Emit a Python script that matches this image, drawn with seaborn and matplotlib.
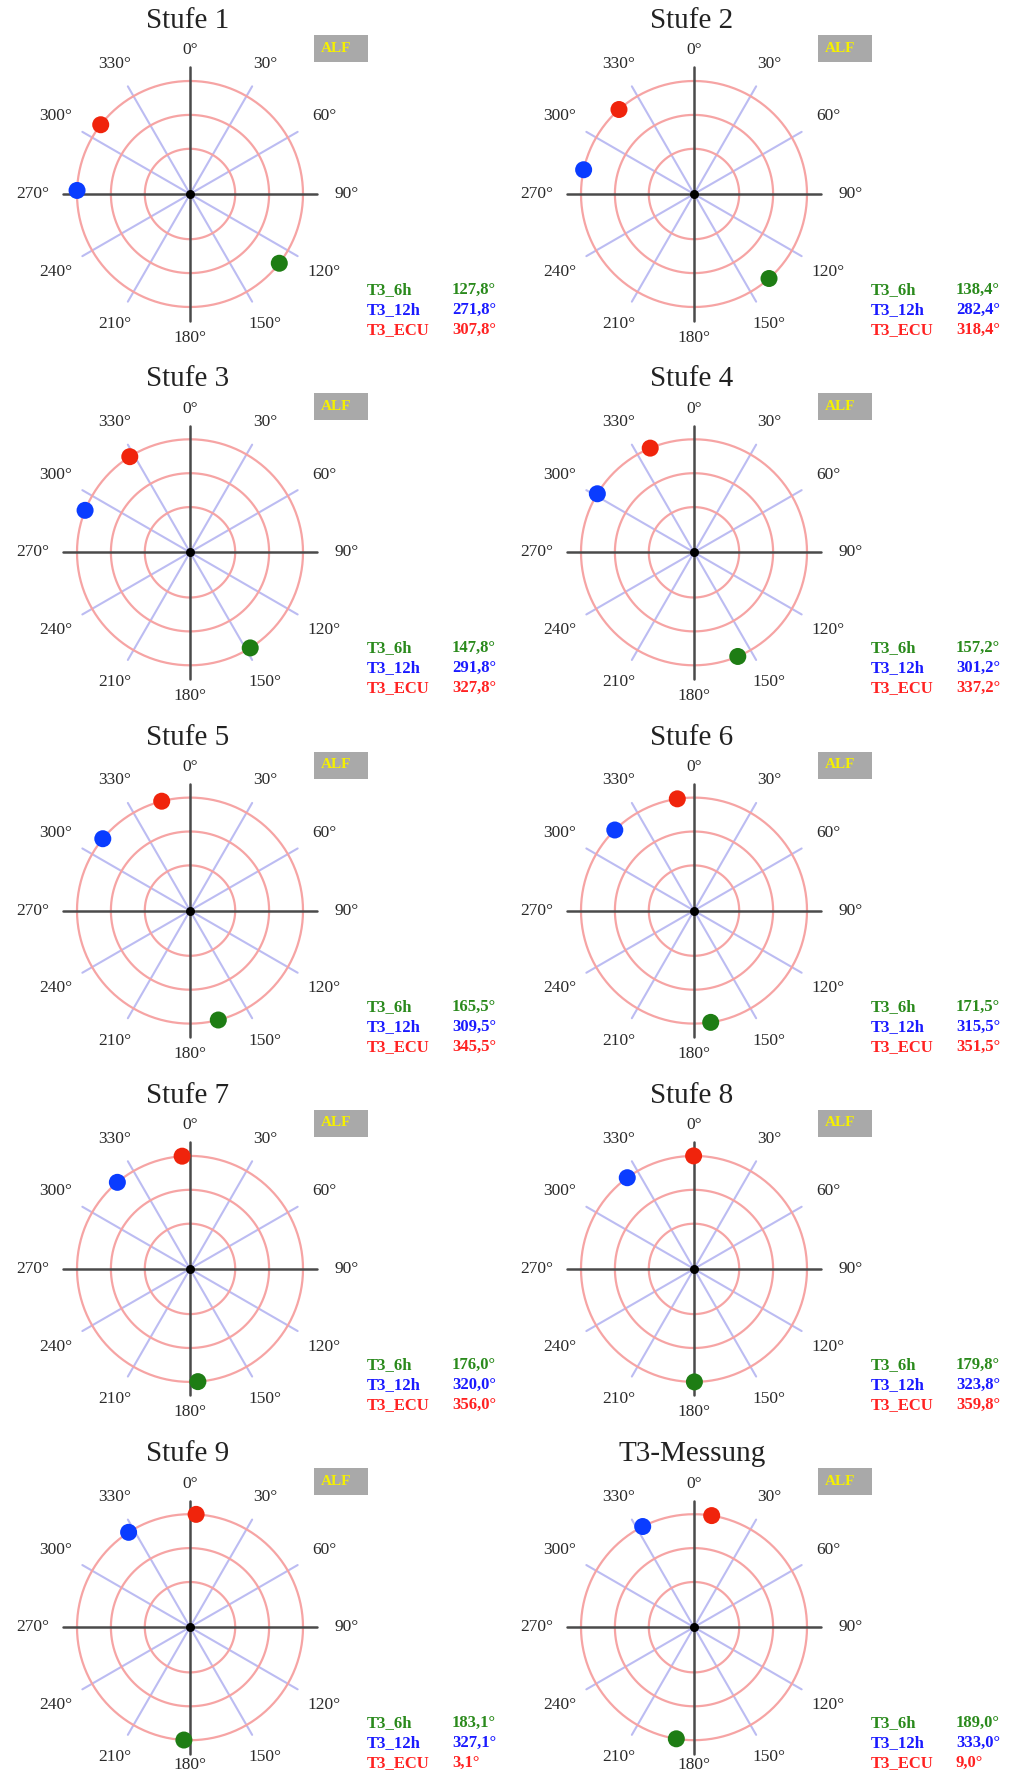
import numpy as np
import pandas as pd
import matplotlib.pyplot as plt
import seaborn as sns
from matplotlib.patches import Rectangle

# panel titles and the three angles (degrees) per panel
titles = ["Stufe 1", "Stufe 2", "Stufe 3", "Stufe 4", "Stufe 5",
          "Stufe 6", "Stufe 7", "Stufe 8", "Stufe 9", "T3-Messung"]
t3_6h = [127.8, 138.4, 147.8, 157.2, 165.5, 171.5, 176.0, 179.8, 183.1, 189.0]
t3_12h = [271.8, 282.4, 291.8, 301.2, 309.5, 315.5, 320.0, 323.8, 327.1, 333.0]
t3_ecu = [307.8, 318.4, 327.8, 337.2, 345.5, 351.5, 356.0, 359.8, 3.1, 9.0]
series_names = ["T3_6h", "T3_12h", "T3_ECU"]
dot_colors = ["#1e7d14", "#0a3cff", "#f0240c"]
text_colors = ["#2a8a1c", "#1a1aff", "#ff2222"]
angle_ticks = list(range(0, 360, 30))
ring_radii = [0.40, 0.70, 1.0]

sns.set_style("white")
plt.rcParams['font.family'] = ['Liberation Serif', 'DejaVu Serif']

W, H = 1011, 1775
fig = plt.figure(figsize=(W / 100, H / 100), dpi=100)


def fx(x):
    return x / W


def fy(y):
    return 1 - y / H


R_PIX = 113      # pixel radius of the outer ring
RMAX = 1.15
half = R_PIX * RMAX

for i, title in enumerate(titles):
    cx = 190 if i % 2 == 0 else 694
    cy = 194 + (i // 2) * 358.3
    last_row = i >= 8
    ax = fig.add_axes([fx(cx - half), fy(cy + half), 2 * half / W, 2 * half / H],
                      projection='polar')
    ax.set_theta_zero_location('N')
    ax.set_theta_direction(-1)
    ax.grid(False)
    ax.spines['polar'].set_visible(False)
    ax.patch.set_alpha(0)

    th = np.linspace(0, 2 * np.pi, 361)
    for a in angle_ticks:
        t = np.deg2rad(a)
        if a % 90 != 0:
            ax.plot([t, t], [0, 1.10], color='#bcbcf2', lw=1.5, zorder=1)
    for r in ring_radii:
        ax.plot(th, np.full_like(th, r), color='#f6a4a4', lw=1.6, zorder=2)
    for a in angle_ticks:
        t = np.deg2rad(a)
        if a % 90 == 0:
            ax.plot([t, t], [0, 1.12], color='#4a4a4a', lw=1.8, zorder=3)
    ax.scatter([0], [0], s=30, color='black', zorder=4)

    df = pd.DataFrame({
        'theta': np.deg2rad([t3_6h[i], t3_12h[i], t3_ecu[i]]),
        'r': 1.0,
        'series': series_names,
    })
    sns.scatterplot(data=df, x='theta', y='r', hue='series',
                    palette=dict(zip(series_names, dot_colors)),
                    s=150, edgecolor='none', legend=False, ax=ax, zorder=5)
    ax.set_ylim(0, RMAX)
    ax.set_xticks([])
    ax.set_yticks([])
    ax.set_xlabel('')
    ax.set_ylabel('')

    for a in angle_ticks:
        rr = 1.27 + 0.12 * abs(np.sin(np.deg2rad(a)))
        if last_row and a == 180:
            rr = 1.22   # keep the bottom label inside the figure
        ax.text(np.deg2rad(a), rr, f"{a}°", ha='center', va='center',
                fontsize=12.5, color='#2a2a2a')

    fig.text(fx(cx - 2), fy(cy - 173), title, ha='center', va='center',
             fontsize=21, color='#222222')

    fig.patches.append(Rectangle((fx(cx + 124), fy(cy - 132)), 54 / W, 27 / H,
                                 transform=fig.transFigure, facecolor='#a9a9a9',
                                 edgecolor='none'))
    fig.text(fx(cx + 146), fy(cy - 146), "ALF", ha='center', va='center',
             fontsize=11, fontweight='bold', color='#f5f000')

    vals = [t3_6h[i], t3_12h[i], t3_ecu[i]]
    for j, name in enumerate(series_names):
        yy = fy(cy + 96 + 20 * j)
        fig.text(fx(cx + 177), yy, name, ha='left', va='center', fontsize=12,
                 fontweight='bold', color=text_colors[j])
        fig.text(fx(cx + 262), yy, f"{vals[j]:.1f}".replace('.', ',') + "°",
                 ha='left', va='center', fontsize=12, fontweight='bold',
                 color=text_colors[j])

fig.savefig("out.png", dpi=100)
